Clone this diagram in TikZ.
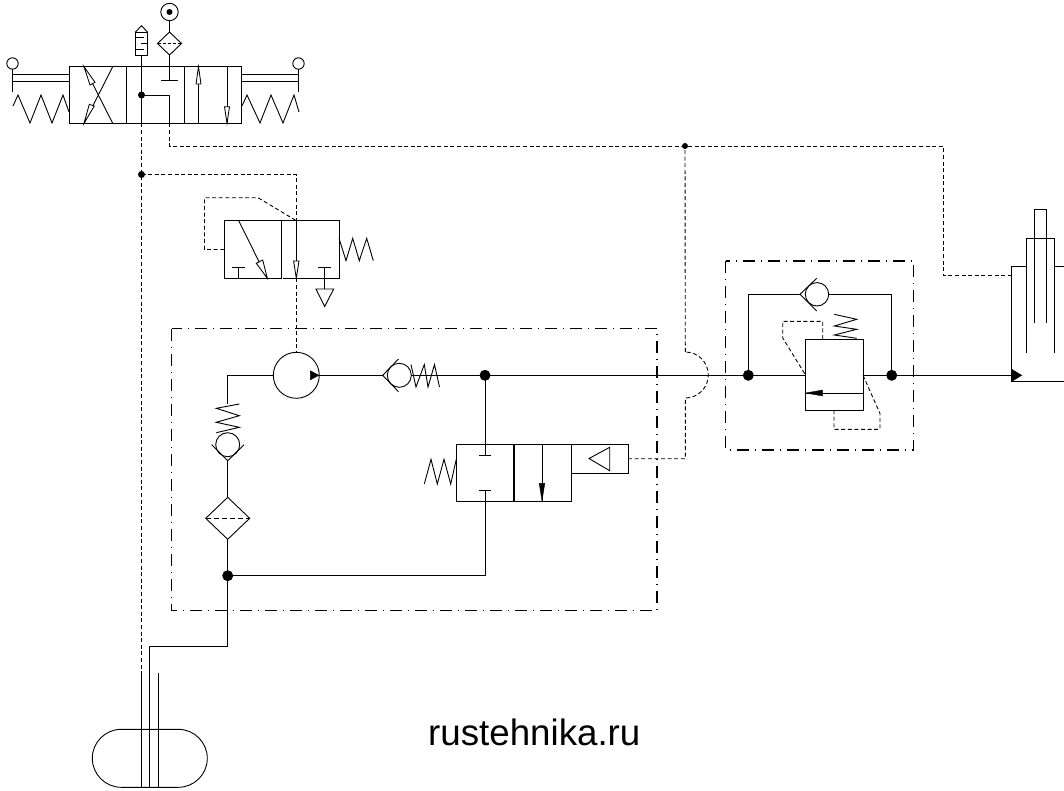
\documentclass[tikz,border=0pt]{standalone}
\usepackage{fontspec}
\setmainfont{Liberation Sans}
\usetikzlibrary{calc}
\tikzset{
  ln/.style={draw=black,line width=0.9pt,line join=miter},
  pilot/.style={draw=black,line width=0.9pt,dash pattern=on 4pt off 2.6pt},
  encl/.style={draw=black,line width=1.5pt,dash pattern=on 12pt off 6pt on 1pt off 6pt},
  solidhead/.style={fill=black,draw=black,line width=0.4pt},
  hollow/.style={draw=black,line width=0.85pt,fill=white},
  junction/.style={circle,fill=black,inner sep=0pt,minimum size=#1},
  junction/.default=11pt
}
\begin{document}
\begin{tikzpicture}[x=1pt,y=-1pt]
\useasboundingbox (0,0) rectangle (1064,790);
\fill[white] (0,0) rectangle (1064,790);
% junctions
\node[junction=7pt] (jTop) at (141.5,95) {};
\node[junction=7pt] (jPilot) at (141.5,174.5) {};
\node[junction=6pt] (jSig) at (685,146) {};
\node[junction] (jP) at (485,375.3) {};
\node[junction] (jRet) at (227.7,575.7) {};
\node[junction] (jL) at (748.3,375.3) {};
\node[junction] (jR) at (891.7,375.3) {};
% named points
\coordinate (pumpC) at (296.3,375.3);
\coordinate (cyl) at (1011.3,375.3);
\coordinate (elbowSig) at (943,146);
\coordinate (elbowCyl) at (943,275);
\coordinate (cylPort) at (1011.3,275);
%--- top valve
\draw[ln] (69.5,66.7) rectangle (241.5,123.3);
\draw[ln] (126.7,66.7)--(126.7,123.3) (184.3,66.7)--(184.3,123.3);
\draw[ln] (84,66.7)--(112.7,123.3) (112.7,66.7)--(84,123.3);
\draw[hollow] (84,66.7)--(95,82.3)--(90,85)--cycle;
\draw[hollow] (84,123.3)--(94.3,106)--(89.3,104.3)--cycle;
\draw[ln] (198.5,66.7)--(198.5,123.3) (227,66.7)--(227,123.3);
\draw[hollow] (198.5,66.7)--(201,84)--(196,84)--cycle;
\draw[hollow] (227,123.3)--(229.5,106.7)--(224.5,106.7)--cycle;
% rods, rollers, springs
\draw[ln] (69.5,74)--(12.5,74) (69.5,81.3)--(12.5,81.3) (12.5,69)--(12.5,92);
\draw[ln] (12.5,63.5) circle (5.7);
\draw[ln] (241.5,74)--(298.5,74) (241.5,81.3)--(298.5,81.3) (298.5,69)--(298.5,92);
\draw[ln] (298.5,63.5) circle (5.7);
\draw[ln] (13,106)--(18,95)--(30,123)--(41,95)--(52,123)--(63,95)--(69,112);
\draw[ln] (242,106)--(247,95)--(260,123)--(271,95)--(283,123)--(294,95)--(299,112);
% silencer
\draw[ln] (135.5,32) rectangle (147.5,55);
\draw[ln] (135.5,32)--(141.5,25.7)--(147.5,32);
\draw[ln] (136,37.5)--(144,37.5) (140.7,43.7)--(147.5,43.7) (136,49.3)--(144,49.3);
% supply and filter
\draw[ln] (169.5,12) circle (8.7);
\fill[black] (169.5,12) circle (3);
\draw[ln] (169.5,20.7)--(169.5,32);
\draw[ln] (169.5,32)--(181.5,43.5)--(169.5,55)--(157.5,43.5)--cycle;
\draw[pilot,dash pattern=on 3pt off 2pt] (157.5,43.5)--(181.5,43.5);
\draw[ln] (169.5,55)--(169.5,80) (161,80)--(178,80);
% inside top valve
\draw[ln] (141.5,55)--(jTop.center)--(141.5,123.3);
\draw[ln] (jTop.center)--(169.5,95)--(169.5,123.3);
%--- pilot lines
\draw[pilot] (169.5,123.3)--(169.5,146)--(jSig.center)--(elbowSig)--(elbowCyl)--(cylPort);
\draw[pilot] (141.5,123.3)--(jPilot.center)--(141.5,671);
\draw[pilot] (jPilot.center)--(296.3,174.5)--(296.3,220.7);
\draw[pilot] (296.3,278.3)--(296.3,352);
%--- second valve
\draw[ln] (224.3,220.7)--(339,220.7)--(339,278.3)--(282.7,278.3);
\draw[ln] (224.3,220.7)--(224.3,278.3)--(281.3,278.3)--(281.3,220.7);
\draw[ln] (238.7,220.7)--(267.3,278.3);
\draw[hollow] (267.3,278.3)--(256.3,263.3)--(262.7,260)--cycle;
\draw[ln] (238.7,278.3)--(238.7,267) (232.3,267)--(245,267);
\draw[ln] (296.3,220.7)--(296.3,278.3);
\draw[hollow] (296.3,278.3)--(299,261)--(293.6,261)--cycle;
\draw[ln] (324.7,267)--(324.7,289) (318.3,267)--(331,267);
\draw[ln] (316,289)--(333.7,289)--(324.7,306.5)--cycle;
\draw[ln] (339,238.3)--(346,260.7)--(352.7,238.3)--(359.3,260.7)--(366.7,238.3)--(373.3,260.7);
\draw[pilot] (224.3,249.5)--(204.5,249.5)--(204.5,197.7)--(258,197.7)--(296.3,220.7);
%--- enclosure
\draw[encl] (171.5,328.5) rectangle (657,610.5);
%--- pump
\draw[ln] (pumpC) circle (23);
\draw[solidhead] (319,375.3)--(310.3,370.8)--(310.3,379.8)--cycle;
\draw[ln] (273.3,375.3)--(227.7,375.3)--(227.7,404);
\draw[ln] (319.3,375.3)--(382.7,375.3);
% check valve horizontal
\draw[ln] (399.3,375.3) circle (12);
\draw[ln] (398.5,359)--(382.7,375.3)--(398.5,391.7);
\draw[ln] (411,364.5)--(416,387)--(424.3,364.5)--(428,387)--(434.5,364.5)--(439.5,387);
\draw[ln] (411,375.3)--(jP.center)--(jL.center)--(806,375.3);
\draw[ln] (jP.center)--(485,455.7) (479.3,455.7)--(491,455.7);
% check valve vertical
\draw[ln] (239.3,404)--(216.3,408.3)--(239.3,415.7)--(216.3,422.3)--(239.3,427.3)--(216.3,432.7);
\draw[ln] (227.7,444.7) circle (12);
\draw[ln] (211.7,444.7)--(227.7,460.7)--(244,444.7);
\draw[ln] (227.7,460.7)--(227.7,497.3);
% filter
\draw[ln] (227.7,497.3)--(249.7,518.3)--(227.7,539.3)--(205.7,518.3)--cycle;
\draw[pilot,dash pattern=on 5pt off 3pt] (205.7,518.3)--(249.7,518.3);
\draw[ln] (227.7,539.3)--(jRet.center)--(485,575.7)--(485,490) (479.3,490)--(491,490);
\draw[ln] (jRet.center)--(227.7,646)--(149.3,646)--(149.3,787.3);
%--- third valve
\draw[ln] (456.3,444.3) rectangle (513.3,501);
\draw[ln] (514.7,444.3) rectangle (571,501);
\draw[ln] (571,444.3) rectangle (628,473);
\draw[ln] (589,458.5)--(609.7,447.3)--(609.7,470.7)--cycle;
\draw[ln] (542,444.3)--(542,501);
\draw[solidhead] (542,501)--(539.2,483.3)--(544.8,483.3)--cycle;
\draw[ln] (424.3,484)--(431,459.3)--(437.3,484)--(444,459.3)--(450.7,484)--(456.3,459.3);
\draw[pilot] (628,458.7)--(685.3,458.7)--(685.3,398) arc[start angle=90,end angle=-90,radius=23];
\draw[pilot] (685.3,352)--(jSig.center);
%--- right block
\draw[encl] (725.5,261) rectangle (913.7,450);
\draw[ln] (jL.center)--(748.3,294.3)--(800,294.3);
\draw[ln] (816.7,278.3)--(800,294.3)--(816.7,311);
\draw[ln] (817,294.3) circle (11.7);
\draw[ln] (828.7,294.3)--(891.7,294.3)--(jR.center);
\draw[ln] (805.7,339) rectangle (863,410.3);
\draw[ln] (805.7,393)--(863,393);
\draw[solidhead] (805.7,393)--(822.7,390)--(822.7,396)--cycle;
\draw[ln] (856.7,338.3)--(834.3,335)--(856.7,329.3)--(834.3,326)--(856.7,319.3)--(834.3,314.3);
\draw[pilot] (822.7,339)--(822.7,321.3)--(782.7,321.3)--(782.7,338)--(805.7,375.3);
\draw[pilot] (863,375.3)--(880,413.5)--(880,429.3)--(834,429.3)--(834,410.3);
\draw[ln] (863,375.3)--(jR.center)--(cyl);
%--- cylinder
\draw[ln] (1064,381.7)--(1011.3,381.7)--(1011.3,266.7)--(1026,266.7);
\draw[ln] (1054.3,266.7)--(1064,266.7);
\draw[ln] (1026,352.7)--(1026,238)--(1054.3,238)--(1054.3,352.7);
\draw[ln] (1034.3,323.3)--(1034.3,209.3)--(1046,209.3)--(1046,323.3);
\draw[solidhead] (1021.7,375.3)--(1011.3,369)--(1011.3,381.7)--cycle;
%--- tank
\draw[ln] (121.3,729.3)--(178.3,729.3) arc[start angle=-90,end angle=90,radius=29] --(121.3,787.3) arc[start angle=90,end angle=270,radius=29];
\draw[ln] (141.5,671)--(141.5,787.3) (158.3,673)--(158.3,787.3);
%--- text
\node[anchor=base west,inner sep=0pt] (credit) at (428,745) {\fontsize{36.7}{40}\selectfont rustehnika.ru};
\end{tikzpicture}
\end{document}
